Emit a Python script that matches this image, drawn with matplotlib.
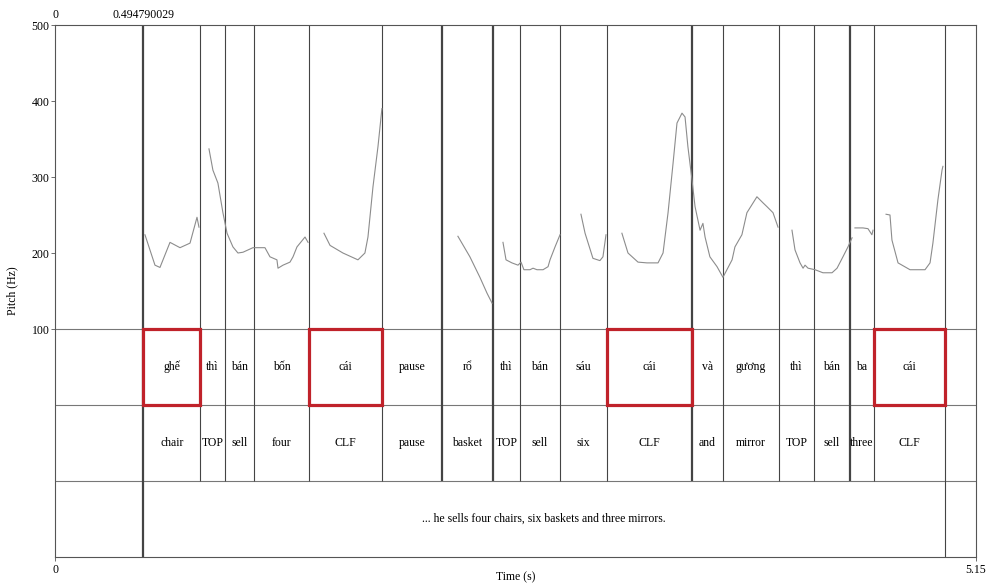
import matplotlib.pyplot as plt
from matplotlib.patches import Rectangle

plt.rcParams['font.family'] = ['Liberation Serif', 'DejaVu Serif']

# interval boundaries (s), shared by the word and gloss tiers
bounds = [0.494790029, 0.811, 0.951, 1.113, 1.420, 1.828, 2.164, 2.449, 2.600,
          2.824, 3.087, 3.562, 3.735, 4.048, 4.244, 4.445, 4.580, 4.977]
words = ['ghế', 'thì', 'bán', 'bốn', 'cái', 'pause', 'rổ', 'thì', 'bán',
         'sáu', 'cái', 'và', 'gương', 'thì', 'bán', 'ba', 'cái']
gloss = ['chair', 'TOP', 'sell', 'four', 'CLF', 'pause', 'basket', 'TOP', 'sell',
         'six', 'CLF', 'and', 'mirror', 'TOP', 'sell', 'three', 'CLF']
sentence = '... he sells four chairs, six baskets and three mirrors.'
boxed = [0, 4, 10, 16]   # word intervals framed in red
heavy = [0.494790029, 2.164, 2.449, 3.562, 4.445]
t_end = 5.15

# pitch contour pieces (time s, F0 Hz)
pitch = [
    ([0.503, 0.559, 0.587, 0.643, 0.699, 0.755, 0.794, 0.805],
     [224, 184, 181, 214, 207, 213, 247, 234]),
    ([0.861, 0.883, 0.911, 0.939, 0.962, 0.995, 1.023, 1.051, 1.107, 1.174,
      1.202, 1.241, 1.247, 1.275, 1.314, 1.331, 1.353, 1.398, 1.415],
     [337, 309, 292, 253, 226, 208, 200, 201, 207, 207,
      195, 191, 180, 184, 188, 195, 208, 221, 214]),
    ([1.504, 1.538, 1.610, 1.694, 1.733, 1.750, 1.778, 1.806, 1.828],
     [226, 210, 200, 191, 200, 221, 287, 340, 390]),
    ([2.253, 2.320, 2.376, 2.416, 2.444],
     [222, 195, 168, 147, 134]),
    ([2.505, 2.522, 2.555, 2.589, 2.606, 2.622, 2.656, 2.673, 2.695, 2.729,
      2.757, 2.768, 2.796, 2.824],
     [214, 191, 187, 184, 188, 178, 178, 180, 178, 178, 182, 191, 208, 224]),
    ([2.941, 2.964, 3.008, 3.047, 3.064, 3.081],
     [251, 226, 193, 190, 195, 224]),
    ([3.170, 3.204, 3.260, 3.310, 3.372, 3.400, 3.428, 3.456, 3.478, 3.506,
      3.523, 3.539, 3.562, 3.579, 3.607, 3.623, 3.635, 3.662, 3.702, 3.735,
      3.786, 3.802, 3.841, 3.869, 3.925, 3.959, 3.981, 4.015, 4.043],
     [226, 200, 188, 187, 187, 200, 253, 318, 371, 384,
      379, 340, 296, 261, 230, 239, 221, 195, 182, 168,
      191, 208, 224, 253, 274, 266, 261, 253, 234]),
    ([4.121, 4.138, 4.166, 4.183, 4.194, 4.211, 4.250, 4.294, 4.345, 4.373,
      4.406, 4.434, 4.457],
     [230, 204, 187, 180, 184, 180, 178, 174, 174, 180, 195, 208, 220]),
    ([4.473, 4.518, 4.546, 4.568, 4.574],
     [233, 233, 232, 224, 230]),
    ([4.647, 4.669, 4.680, 4.714, 4.781, 4.865, 4.893, 4.909, 4.937, 4.960, 4.965],
     [251, 250, 217, 187, 178, 178, 187, 213, 270, 309, 314]),
]

fs = 8.5
fig = plt.figure(figsize=(9.88, 5.86), dpi=100)
ax = fig.add_axes([55/988, 29/586, 921/988, 532/586])
ax.set_xlim(0, t_end)
ax.set_ylim(-200, 500)

# tier rows: word tier 100..0, gloss tier 0..-100, sentence -100..-200
for y in [100, 0, -100]:
    ax.axhline(y, color='#777777', lw=0.8)

for b in bounds:
    lo = -200 if b in (bounds[0], bounds[-1]) else -100
    ax.vlines(b, lo, 500, color='#444444', lw=1.6 if b in heavy else 0.8)

for t, f in pitch:
    ax.plot(t, f, color='#8c8c8c', lw=0.8)

edges = bounds
for i in range(len(words)):
    xc = (edges[i] + edges[i + 1]) / 2
    ax.text(xc, 50, words[i], ha='center', va='center', fontsize=fs)
    ax.text(xc, -50, gloss[i], ha='center', va='center', fontsize=fs)
ax.text((bounds[0] + bounds[-1]) / 2, -150, sentence, ha='center', va='center', fontsize=fs)

for i in boxed:
    ax.add_patch(Rectangle((edges[i], 0), edges[i + 1] - edges[i], 100,
                           fill=False, edgecolor='#c0222a', lw=2.3, zorder=5))

for s in ax.spines.values():
    s.set_color('#555555')
    s.set_linewidth(0.8)

ax.set_yticks([100, 200, 300, 400, 500])
ax.tick_params(axis='y', labelsize=fs, length=3, width=0.6, color='#555555', pad=1)
ax.set_xticks([0, t_end])
ax.set_xticklabels(['0', '5.15'])
ax.tick_params(axis='x', labelsize=fs, length=3, width=0.6, color='#555555', pad=2)

top = ax.secondary_xaxis('top')
top.set_xticks([0, bounds[0]])
top.set_xticklabels(['0', '0.494790029'])
top.tick_params(labelsize=fs, length=0, pad=3)
top.spines['top'].set_visible(False)

ax.set_ylabel('Pitch (Hz)', fontsize=fs)
ax.yaxis.set_label_coords(-0.04, 0.5)
ax.set_xlabel('Time (s)', fontsize=fs)
ax.xaxis.set_label_coords(0.5, -0.026)

fig.savefig('out.png', dpi=100)
